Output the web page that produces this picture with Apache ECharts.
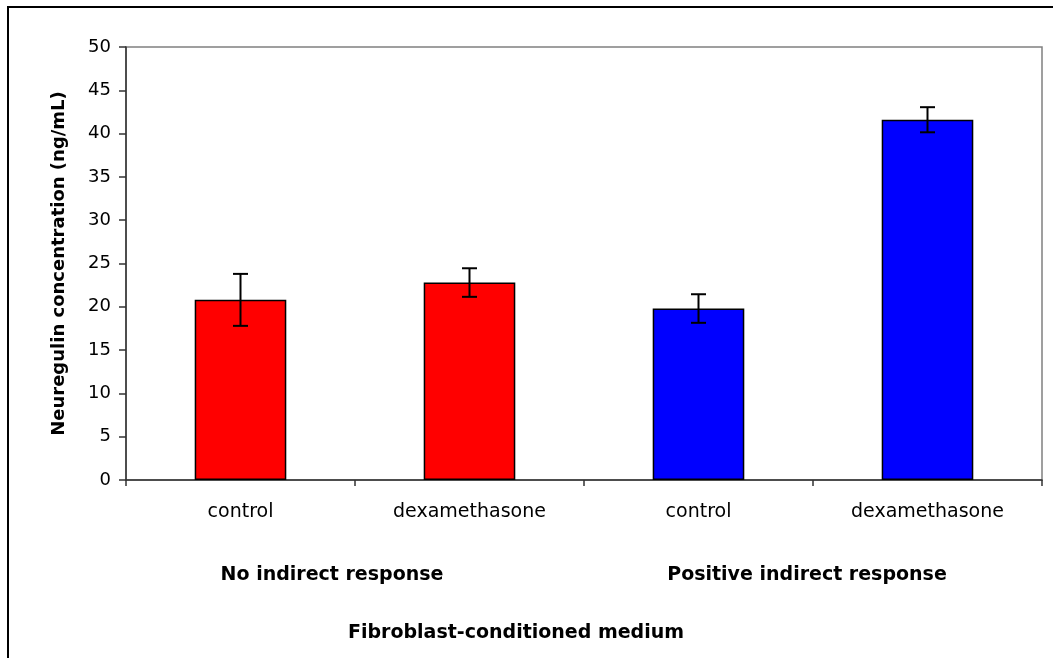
<!DOCTYPE html>
<html>
<head>
<meta charset="utf-8">
<script src="https://cdn.jsdelivr.net/npm/echarts@6/dist/echarts.min.js"></script>
<style>
  html, body { margin: 0; padding: 0; background: #ffffff; }
  #chart { width: 1053px; height: 658px; }
</style>
</head>
<body>
<div id="chart"></div>
<script>
// Neuregulin concentration per treatment, grouped by indirect response
const categories = ['control', 'dexamethasone', 'control', 'dexamethasone'];
const groupLabels = ['No indirect response', 'Positive indirect response'];
const means = [20.8, 22.8, 19.8, 41.6];
const errors = [3.0, 1.65, 1.65, 1.45];
const barColors = ['#ff0000', '#ff0000', '#0000ff', '#0000ff'];
const yAxisTitle = 'Neuregulin concentration (ng/mL)';
const xAxisTitle = 'Fibroblast-conditioned medium';

const FONT = 'DejaVu Sans';
const BOLD_FONT = 'bold 19px "DejaVu Sans"';

const chart = echarts.init(document.getElementById('chart'), null, { renderer: 'canvas' });

const barData = means.map((v, i) => ({
  value: v,
  itemStyle: { color: barColors[i] }
}));
const errData = means.map((v, i) => [i, v - errors[i], v + errors[i]]);

chart.setOption({
  animation: false,
  backgroundColor: '#ffffff',
  grid: {
    left: 126, top: 47, right: 11, bottom: 178,
    show: true, borderColor: '#808080', borderWidth: 1.5,
    backgroundColor: 'transparent'
  },
  xAxis: {
    type: 'category',
    data: categories,
    boundaryGap: true,
    axisLine: { lineStyle: { color: '#333333', width: 1.5 } },
    axisTick: { show: true, inside: false, length: 6, lineStyle: { color: '#333333', width: 1.5 } },
    axisLabel: { color: '#000000', fontFamily: FONT, fontSize: 19, margin: 23 },
    splitLine: { show: false }
  },
  yAxis: {
    type: 'value',
    min: 0, max: 50, interval: 5,
    name: yAxisTitle,
    nameLocation: 'middle',
    nameGap: 58,
    nameRotate: 90,
    nameTextStyle: { color: '#000000', fontFamily: FONT, fontSize: 18, fontWeight: 'bold' },
    axisLine: { show: true, lineStyle: { color: '#333333', width: 1.5 } },
    axisTick: { show: true, inside: false, length: 7, lineStyle: { color: '#333333', width: 1.5 } },
    axisLabel: { color: '#000000', fontFamily: FONT, fontSize: 18, margin: 15 },
    splitLine: { show: false }
  },
  series: [
    {
      type: 'bar',
      data: barData,
      barWidth: '40%',
      itemStyle: { borderColor: '#000000', borderWidth: 1.5 }
    },
    {
      type: 'custom',
      data: errData,
      z: 10,
      renderItem: function (params, api) {
        const x = api.value(0);
        const lo = api.coord([x, api.value(1)]);
        const hi = api.coord([x, api.value(2)]);
        const cap = 7.5;
        const style = { stroke: '#000000', lineWidth: 2 };
        return {
          type: 'group',
          children: [
            { type: 'line', shape: { x1: hi[0], y1: hi[1], x2: lo[0], y2: lo[1] }, style: style },
            { type: 'line', shape: { x1: hi[0] - cap, y1: hi[1], x2: hi[0] + cap, y2: hi[1] }, style: style },
            { type: 'line', shape: { x1: lo[0] - cap, y1: lo[1], x2: lo[0] + cap, y2: lo[1] }, style: style }
          ]
        };
      }
    }
  ],
  graphic: [
    {
      type: 'rect', silent: true, z: -1,
      shape: { x: 8, y: 7, width: 1200, height: 800 },
      style: { fill: 'transparent', stroke: '#000000', lineWidth: 2 }
    },
    {
      type: 'text', x: 332, y: 575,
      style: { text: groupLabels[0], font: BOLD_FONT, fill: '#000000', align: 'center', verticalAlign: 'middle' }
    },
    {
      type: 'text', x: 807, y: 575,
      style: { text: groupLabels[1], font: BOLD_FONT, fill: '#000000', align: 'center', verticalAlign: 'middle' }
    },
    {
      type: 'text', x: 516, y: 633,
      style: { text: xAxisTitle, font: BOLD_FONT, fill: '#000000', align: 'center', verticalAlign: 'middle' }
    }
  ]
});
</script>
</body>
</html>
